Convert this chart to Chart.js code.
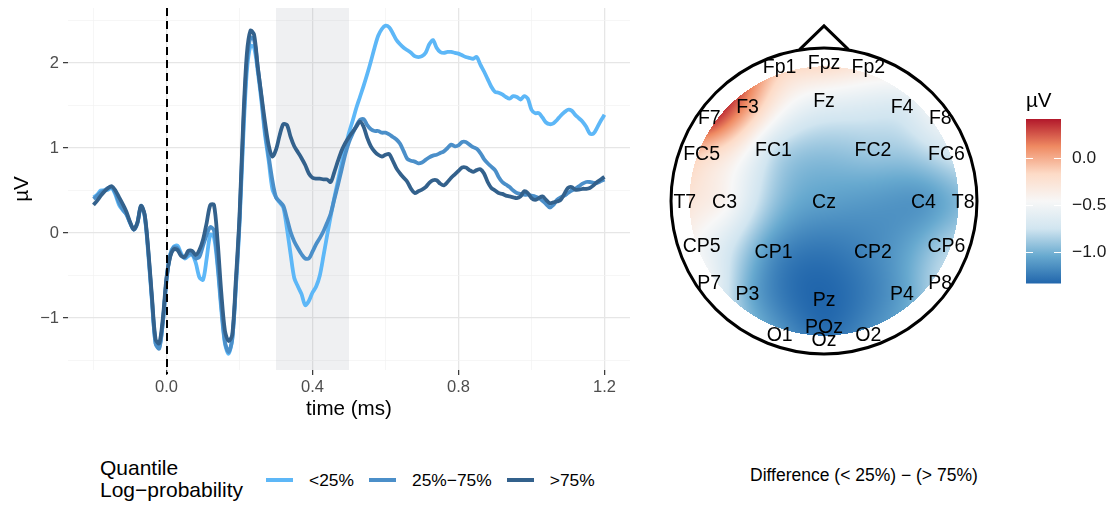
<!DOCTYPE html>
<html>
<head>
<meta charset="utf-8">
<script src="https://cdn.jsdelivr.net/npm/chart.js@4.4.1/dist/chart.umd.min.js"></script>
<style>
  body { margin: 0; background: #fff; font-family: "Liberation Sans", Arial, sans-serif; }
  #page { position: relative; width: 1112px; height: 506px; overflow: hidden; }
  canvas { position: absolute; }
  #erp { left: 0; top: 0; }
  #topo { left: 660px; top: 15px; }
  #barre { left: 1000px; top: 85px; }
  #legende-titre { position: absolute; left: 100px; top: 457px; font-size: 21px; line-height: 22px; color: #000; }
  #legende { position: absolute; left: 266px; top: 468px; height: 24px; display: flex; align-items: center; font-size: 17.4px; color: #000; }
  .item { display: flex; align-items: center; margin-right: 15px; }
  .trait { width: 27px; height: 4px; margin-right: 16px; }
  #legende-diff { position: absolute; left: 750px; top: 465px; font-size: 17.5px; line-height: 20px; white-space: nowrap; color: #000; }
</style>
</head>
<body>
<div id="page">
  <canvas id="erp" width="650" height="440"></canvas>
  <canvas id="topo" width="330" height="370"></canvas>
  <canvas id="barre" width="112" height="220"></canvas>
  <div id="legende-titre">Quantile<br>Log−probability</div>
  <div id="legende"></div>
  <div id="legende-diff">Difference (&lt; 25%) − (&gt; 75%)</div>
</div>
<script>
// --- données ---
const temps = Array.from({ length: 141 }, (_, i) => (i - 20) / 100); // -0.2 .. 1.2 s

const quantiles = ["<25%", "25%−75%", ">75%"];
const couleurs = ["#5db7f7", "#4b8fc9", "#33618c"];

const bas = [
  0.42, 0.45, 0.50, 0.50, 0.51, 0.53, 0.45, 0.33, 0.27, 0.22,
  0.12, 0.04, 0.12, 0.32, 0.20, -0.25, -0.80, -1.30, -1.35, -1.05,
  -0.55, -0.25, -0.16, -0.15, -0.24, -0.30, -0.27, -0.25, -0.35, -0.52,
  -0.55, -0.30, -0.02, -0.05, -0.40, -0.90, -1.30, -1.42, -1.25, -0.65,
  0.10, 1.10, 1.90, 2.20, 2.18, 1.90, 1.55, 1.15, 0.85, 0.52,
  0.42, 0.36, 0.30, 0.05, -0.25, -0.53, -0.63, -0.72, -0.85, -0.80,
  -0.70, -0.63, -0.50, -0.27, -0.03, 0.20, 0.42, 0.62, 0.82, 1.00,
  1.18, 1.32, 1.47, 1.60, 1.73, 1.87, 2.02, 2.18, 2.32, 2.40,
  2.44, 2.42, 2.35, 2.27, 2.22, 2.18, 2.15, 2.12, 2.08, 2.07,
  2.08, 2.12, 2.22, 2.27, 2.18, 2.13, 2.12, 2.13, 2.13, 2.12,
  2.11, 2.09, 2.07, 2.06, 2.05, 2.07, 1.98, 1.90, 1.81, 1.72,
  1.66, 1.65, 1.63, 1.60, 1.58, 1.61, 1.60, 1.57, 1.61, 1.58,
  1.45, 1.41, 1.41, 1.36, 1.30, 1.28, 1.29, 1.33, 1.38, 1.42,
  1.45, 1.44, 1.39, 1.35, 1.31, 1.25, 1.17, 1.17, 1.24, 1.32,
  1.39
];

const moyen = [
  0.40, 0.44, 0.48, 0.50, 0.53, 0.54, 0.47, 0.36, 0.28, 0.22,
  0.12, 0.04, 0.11, 0.31, 0.21, -0.22, -0.78, -1.30, -1.36, -1.05,
  -0.55, -0.27, -0.17, -0.18, -0.26, -0.29, -0.24, -0.25, -0.30, -0.28,
  -0.15, -0.02, 0.07, 0.03, -0.35, -0.85, -1.28, -1.40, -1.25, -0.62,
  0.15, 1.20, 2.00, 2.30, 2.27, 1.95, 1.60, 1.20, 0.90, 0.62,
  0.42, 0.37, 0.32, 0.17, 0.01, -0.10, -0.18, -0.25, -0.30, -0.30,
  -0.22, -0.13, -0.06, 0.02, 0.12, 0.23, 0.40, 0.57, 0.75, 0.93,
  1.07, 1.17, 1.26, 1.33, 1.34, 1.27, 1.22, 1.20, 1.20, 1.18,
  1.18, 1.16, 1.13, 1.10, 1.05, 0.96, 0.87, 0.85, 0.84, 0.82,
  0.83, 0.86, 0.89, 0.91, 0.92, 0.94, 0.96, 1.00, 1.04, 1.02,
  1.03, 1.07, 1.07, 1.04, 1.01, 0.99, 0.94, 0.87, 0.82, 0.78,
  0.74, 0.66, 0.60, 0.57, 0.54, 0.50, 0.47, 0.46, 0.45, 0.45,
  0.44, 0.43, 0.41, 0.38, 0.34, 0.30, 0.33, 0.39, 0.42, 0.44,
  0.47, 0.50, 0.52, 0.55, 0.58, 0.60, 0.60, 0.59, 0.59, 0.61,
  0.63
];

const haut = [
  0.33, 0.38, 0.44, 0.49, 0.53, 0.55, 0.50, 0.42, 0.34, 0.25,
  0.13, 0.04, 0.12, 0.32, 0.22, -0.20, -0.75, -1.25, -1.30, -1.00,
  -0.52, -0.28, -0.19, -0.20, -0.27, -0.28, -0.21, -0.21, -0.26, -0.20,
  -0.08, 0.12, 0.33, 0.33, -0.10, -0.70, -1.15, -1.27, -1.20, -0.55,
  0.20, 1.30, 2.10, 2.38, 2.33, 1.95, 1.62, 1.30, 1.03, 0.90,
  0.98, 1.15, 1.28, 1.27, 1.13, 1.02, 0.95, 0.88, 0.80, 0.70,
  0.65, 0.64, 0.64, 0.63, 0.63, 0.60, 0.72, 0.85, 0.97, 1.06,
  1.13, 1.19, 1.25, 1.31, 1.25, 1.12, 1.02, 0.96, 0.92, 0.90,
  0.92, 0.93, 0.85, 0.76, 0.70, 0.65, 0.60, 0.52, 0.47, 0.49,
  0.51, 0.54, 0.59, 0.62, 0.62, 0.58, 0.56, 0.60, 0.65, 0.69,
  0.73, 0.77, 0.77, 0.74, 0.72, 0.74, 0.75, 0.70, 0.60, 0.53,
  0.50, 0.47, 0.46, 0.44, 0.43, 0.42, 0.41, 0.43, 0.49, 0.47,
  0.41, 0.39, 0.41, 0.43, 0.39, 0.35, 0.36, 0.37, 0.39, 0.46,
  0.53, 0.54, 0.51, 0.51, 0.52, 0.52, 0.53, 0.56, 0.60, 0.63,
  0.66
];

const fenetre = [0.3, 0.5];           // zone grisée
const ticksX = [-0.2, 0, 0.2, 0.4, 0.6, 0.8, 1.0, 1.2];
const ticksY = [-1.5, -1, -0.5, 0, 0.5, 1, 1.5, 2, 2.5];

// carte topographique : différence (< 25%) − (> 75%)
const electrodes = ["Fp1", "Fpz", "Fp2", "F7", "F3", "Fz", "F4", "F8",
  "FC5", "FC1", "FC2", "FC6", "T7", "C3", "Cz", "C4", "T8",
  "CP5", "CP1", "CP2", "CP6", "P7", "P3", "Pz", "P4", "P8",
  "O1", "POz", "Oz", "O2"];
const elecX = [-0.29, 0, 0.29, -0.75, -0.50, 0, 0.51, 0.76,
  -0.80, -0.33, 0.32, 0.80, -0.91, -0.65, 0, 0.65, 0.91,
  -0.80, -0.33, 0.32, 0.80, -0.75, -0.50, 0, 0.51, 0.76,
  -0.29, 0, 0, 0.29];
const elecY = [0.87, 0.90, 0.87, 0.54, 0.61, 0.65, 0.61, 0.54,
  0.30, 0.33, 0.33, 0.30, -0.01, -0.01, -0.01, -0.01, -0.01,
  -0.30, -0.34, -0.34, -0.30, -0.54, -0.61, -0.65, -0.61, -0.54,
  -0.88, -0.83, -0.91, -0.88];
const difference = [-0.10, -0.15, -0.30, 0.41, 0.05, -0.58, -0.68, -0.50,
  -0.15, -0.76, -0.88, -0.75, -0.25, -0.42, -1.08, -1.12, -0.95,
  -0.50, -1.15, -1.18, -0.85, -0.50, -1.00, -1.33, -1.08, -0.80,
  -1.10, -1.30, -1.25, -1.15];
const ticksBarre = [-1, -0.5, 0];

// --- réglages ---
const police = "Liberation Sans";
const rdbu = ["#2166ac", "#67a9cf", "#d1e5f0", "#f7f7f7", "#fddbc7", "#ef8a62", "#b2182b"];
const vmin = Math.min(...difference);
const vmax = Math.max(...difference);

function hexVersRgb(h) {
  return [1, 3, 5].map(i => parseInt(h.slice(i, i + 2), 16));
}
const rdbuRgb = rdbu.map(hexVersRgb);

function couleur(v) {
  let t = (v - vmin) / (vmax - vmin);
  t = Math.max(0, Math.min(1, t)) * (rdbu.length - 1);
  const i = Math.min(Math.floor(t), rdbu.length - 2);
  const f = t - i;
  const a = rdbuRgb[i], b = rdbuRgb[i + 1];
  return [0, 1, 2].map(k => Math.round(a[k] + (b[k] - a[k]) * f));
}

const moins = s => s.replace("-", "−");
const estMultiple = (v, pas) => Math.abs(v / pas - Math.round(v / pas)) < 1e-6;

// --- graphique ERP ---
const zoneGrise = {
  id: "zoneGrise",
  beforeDatasetsDraw(chart) {
    const { ctx, chartArea, scales: { x } } = chart;
    const x1 = x.getPixelForValue(fenetre[0]);
    const x2 = x.getPixelForValue(fenetre[1]);
    ctx.save();
    ctx.fillStyle = "rgba(120,135,150,0.12)";
    ctx.fillRect(x1, chartArea.top, x2 - x1, chartArea.bottom - chartArea.top);
    ctx.restore();
  },
  afterDatasetsDraw(chart) {
    const { ctx, chartArea, scales: { x } } = chart;
    const x0 = Math.round(x.getPixelForValue(0));
    ctx.save();
    ctx.strokeStyle = "#000";
    ctx.lineWidth = 2;
    ctx.setLineDash([8, 5]);
    ctx.beginPath();
    ctx.moveTo(x0, chartArea.top);
    ctx.lineTo(x0, chartArea.bottom + 4);
    ctx.stroke();
    ctx.restore();
  }
};

const series = [bas, moyen, haut];
const erp = new Chart(document.getElementById("erp"), {
  type: "line",
  data: {
    datasets: series.map((valeurs, k) => ({
      label: quantiles[k],
      data: temps.map((t, i) => ({ x: t, y: valeurs[i] })),
      borderColor: couleurs[k],
      backgroundColor: couleurs[k],
      borderWidth: 3.8,
      pointRadius: 0,
      tension: 0.3,
      order: 3 - k
    }))
  },
  options: {
    responsive: false,
    animation: false,
    layout: { padding: { top: 8, right: 20, left: 0, bottom: 0 } },
    plugins: { legend: { display: false }, tooltip: { enabled: false } },
    scales: {
      x: {
        type: "linear",
        min: -0.27,
        max: 1.27,
        afterBuildTicks: axe => { axe.ticks = ticksX.map(v => ({ value: v })); },
        afterFit: axe => { axe.height = 70; axe.paddingLeft = 0; axe.paddingRight = 0; },
        ticks: {
          autoSkip: false,
          maxRotation: 0,
          padding: 3,
          color: "#4d4d4d",
          font: { family: police, size: 16.5 },
          callback: v => estMultiple(v, 0.4) ? moins(v.toFixed(1)) : ""
        },
        grid: {
          color: c => estMultiple(c.tick.value, 0.4) ? "#e6e6e6" : "#f2f2f2",
          lineWidth: c => estMultiple(c.tick.value, 0.4) ? 1.3 : 0.7,
          tickColor: c => estMultiple(c.tick.value, 0.4) ? "#333" : "rgba(0,0,0,0)",
          tickLength: 5,
          tickWidth: 1.2
        },
        border: { display: false },
        title: {
          display: true,
          text: "time (ms)",
          color: "#000",
          font: { family: police, size: 20.6 },
          padding: { top: 0, bottom: 18 }
        }
      },
      y: {
        min: -1.612,
        max: 2.647,
        afterBuildTicks: axe => { axe.ticks = ticksY.map(v => ({ value: v })); },
        afterFit: axe => { axe.width = 68; axe.paddingTop = 0; axe.paddingBottom = 0; },
        ticks: {
          padding: 4,
          color: "#4d4d4d",
          font: { family: police, size: 16.5 },
          callback: v => Number.isInteger(v) ? moins(String(v)) : ""
        },
        grid: {
          color: c => Number.isInteger(c.tick.value) ? "#e6e6e6" : "#f2f2f2",
          lineWidth: c => Number.isInteger(c.tick.value) ? 1.3 : 0.7,
          tickColor: c => Number.isInteger(c.tick.value) ? "#333" : "rgba(0,0,0,0)",
          tickLength: 5,
          tickWidth: 1.2
        },
        border: { display: false },
        title: {
          display: true,
          text: "µV",
          color: "#000",
          font: { family: police, size: 20.6 },
          padding: { top: 10, bottom: 0 }
        }
      }
    }
  },
  plugins: [zoneGrise]
});

// légende construite depuis les jeux de données
const legende = document.getElementById("legende");
erp.data.datasets.forEach(ds => {
  const item = document.createElement("div");
  item.className = "item";
  const trait = document.createElement("span");
  trait.className = "trait";
  trait.style.background = ds.borderColor;
  const texte = document.createElement("span");
  texte.textContent = ds.label;
  item.append(trait, texte);
  legende.append(item);
});

// --- carte topographique : spline de plaque mince ---
const phi = r2 => (r2 <= 0 ? 0 : 0.5 * r2 * Math.log(r2));

function resoudre(A, b) {
  const n = b.length;
  for (let c = 0; c < n; c++) {
    let p = c;
    for (let r = c + 1; r < n; r++) if (Math.abs(A[r][c]) > Math.abs(A[p][c])) p = r;
    [A[c], A[p]] = [A[p], A[c]];
    [b[c], b[p]] = [b[p], b[c]];
    for (let r = c + 1; r < n; r++) {
      const f = A[r][c] / A[c][c];
      for (let k = c; k < n; k++) A[r][k] -= f * A[c][k];
      b[r] -= f * b[c];
    }
  }
  const x = new Array(n).fill(0);
  for (let r = n - 1; r >= 0; r--) {
    let s = b[r];
    for (let k = r + 1; k < n; k++) s -= A[r][k] * x[k];
    x[r] = s / A[r][r];
  }
  return x;
}

const nE = difference.length;
const matrice = [];
for (let i = 0; i < nE + 3; i++) matrice.push(new Array(nE + 3).fill(0));
for (let i = 0; i < nE; i++) {
  for (let j = 0; j < nE; j++) {
    matrice[i][j] = phi((elecX[i] - elecX[j]) ** 2 + (elecY[i] - elecY[j]) ** 2);
  }
  matrice[i][nE] = matrice[nE][i] = 1;
  matrice[i][nE + 1] = matrice[nE + 1][i] = elecX[i];
  matrice[i][nE + 2] = matrice[nE + 2][i] = elecY[i];
}
const coefs = resoudre(matrice, [...difference, 0, 0, 0]);

function interpoler(px, py) {
  let s = coefs[nE] + coefs[nE + 1] * px + coefs[nE + 2] * py;
  for (let i = 0; i < nE; i++) {
    s += coefs[i] * phi((px - elecX[i]) ** 2 + (py - elecY[i]) ** 2);
  }
  return s;
}

const carteTopo = {
  id: "carteTopo",
  beforeDatasetsDraw(chart) {
    const { ctx, scales: { x, y } } = chart;
    const cx = x.getPixelForValue(0), cy = y.getPixelForValue(0);
    const r = x.getPixelForValue(1) - cx;
    const rz = r * 0.88;

    const hors = document.createElement("canvas");
    hors.width = chart.width;
    hors.height = chart.height;
    const hctx = hors.getContext("2d");
    const img = hctx.createImageData(hors.width, hors.height);
    for (let py = 0; py < hors.height; py++) {
      for (let px = 0; px < hors.width; px++) {
        const dx = px + 0.5 - cx, dy = py + 0.5 - cy;
        if (dx * dx + dy * dy > rz * rz) continue;
        const v = interpoler(x.getValueForPixel(px + 0.5), y.getValueForPixel(py + 0.5));
        const [rr, gg, bb] = couleur(v);
        const k = (py * hors.width + px) * 4;
        img.data[k] = rr; img.data[k + 1] = gg; img.data[k + 2] = bb; img.data[k + 3] = 255;
      }
    }
    hctx.putImageData(img, 0, 0);
    ctx.drawImage(hors, 0, 0);

    // contour de la tête et nez
    ctx.save();
    ctx.strokeStyle = "#000";
    ctx.lineWidth = 3;
    ctx.beginPath();
    ctx.arc(cx, cy, r, 0, Math.PI * 2);
    ctx.stroke();
    ctx.beginPath();
    ctx.moveTo(x.getPixelForValue(-0.16), y.getPixelForValue(0.99));
    ctx.lineTo(x.getPixelForValue(0), y.getPixelForValue(1.145));
    ctx.lineTo(x.getPixelForValue(0.16), y.getPixelForValue(0.99));
    ctx.stroke();
    ctx.restore();
  },
  afterDatasetsDraw(chart) {
    const { ctx, scales: { x, y } } = chart;
    ctx.save();
    ctx.fillStyle = "#000";
    ctx.font = "19.5px " + police;
    ctx.textAlign = "center";
    ctx.textBaseline = "middle";
    electrodes.forEach((nom, i) => {
      ctx.fillText(nom, x.getPixelForValue(elecX[i]), y.getPixelForValue(elecY[i]));
    });
    ctx.restore();
  }
};

new Chart(document.getElementById("topo"), {
  type: "scatter",
  data: {
    datasets: [{
      label: "électrodes",
      data: electrodes.map((nom, i) => ({ x: elecX[i], y: elecY[i] })),
      pointRadius: 0
    }]
  },
  options: {
    responsive: false,
    animation: false,
    layout: { padding: 0 },
    plugins: { legend: { display: false }, tooltip: { enabled: false } },
    scales: {
      x: { type: "linear", min: -1.072, max: 1.085, display: false },
      y: { type: "linear", min: -1.203, max: 1.216, display: false }
    }
  },
  plugins: [carteTopo]
});

// --- barre de couleur ---
const reperesBarre = {
  id: "reperesBarre",
  afterDatasetsDraw(chart) {
    const { ctx, chartArea, scales: { y } } = chart;
    ctx.save();
    ctx.strokeStyle = "#fff";
    ctx.lineWidth = 1;
    y.ticks.forEach(t => {
      const py = Math.round(y.getPixelForValue(t.value)) + 0.5;
      ctx.beginPath();
      ctx.moveTo(chartArea.left, py);
      ctx.lineTo(chartArea.left + 7, py);
      ctx.moveTo(chartArea.right - 7, py);
      ctx.lineTo(chartArea.right, py);
      ctx.stroke();
    });
    ctx.fillStyle = "#000";
    ctx.font = "20.6px " + police;
    ctx.textAlign = "left";
    ctx.textBaseline = "middle";
    ctx.fillText("µV", chartArea.left, chartArea.top - 18);
    ctx.restore();
  }
};

new Chart(document.getElementById("barre"), {
  type: "bar",
  data: {
    labels: ["µV"],
    datasets: [{
      data: [[vmin, vmax]],
      backgroundColor: c => {
        const { chart } = c;
        if (!chart.chartArea) return rdbu[3];
        const y = chart.scales.y;
        const g = chart.ctx.createLinearGradient(0, y.getPixelForValue(vmin), 0, y.getPixelForValue(vmax));
        rdbu.forEach((col, i) => g.addColorStop(i / (rdbu.length - 1), col));
        return g;
      },
      borderWidth: 0,
      barPercentage: 1,
      categoryPercentage: 1
    }]
  },
  options: {
    responsive: false,
    animation: false,
    layout: { padding: { top: 34, bottom: 13, left: 26, right: 0 } },
    plugins: { legend: { display: false }, tooltip: { enabled: false } },
    scales: {
      x: { display: false },
      y: {
        position: "right",
        min: vmin,
        max: vmax,
        afterBuildTicks: axe => { axe.ticks = ticksBarre.map(v => ({ value: v })); },
        afterFit: axe => { axe.width = 51; },
        grid: { display: false, drawTicks: false },
        border: { display: false },
        ticks: {
          padding: 11,
          color: "#1a1a1a",
          font: { family: police, size: 17.4 },
          callback: v => moins(v.toFixed(1))
        }
      }
    }
  },
  plugins: [reperesBarre]
});
</script>
</body>
</html>
